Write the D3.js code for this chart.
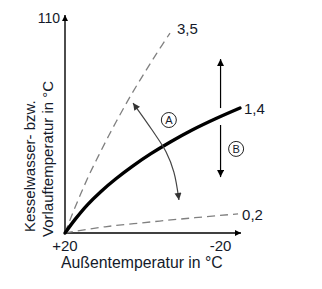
<!DOCTYPE html>
<html><head><meta charset="utf-8">
<script src="https://cdn.jsdelivr.net/npm/d3@7/dist/d3.min.js"></script>
<style>body{margin:0;background:#fff}svg{display:block}text{font-family:"Liberation Sans",Arial,sans-serif;fill:#141a2a}</style>
</head><body><svg id="c" width="322" height="289"></svg>
<script>
// Data (outside temperature T in °C, flow temperature F in °C)
const slopeLabels = ["3,5", "1,4", "0,2"];
const curve35 = [[20,20],[18.1,28.0],[16.0,36.2],[13.8,44.3],[11.3,52.6],[8.7,60.9],[5.9,69.4],[3.0,77.8],[-0.2,86.4],[-3.5,95.0],[-7.0,103.7]];
const curve14 = [[20,20],[17.3,25.9],[14.3,31.7],[10.8,37.3],[6.9,42.7],[2.6,48.0],[-2.1,53.2],[-7.2,58.2],[-12.7,63.1],[-18.7,67.8],[-25,72.3]];
const curve02 = [[20,20],[9.7,22.6],[-1.9,24.6],[-13.4,26.4],[-24.5,28.0]];
const xTicks = [20, -20];
const xTickLabels = ["+20", "-20"];
const yTicks = [110];
const arcA = [[2.5,74.4],[-2.4,63.1],[-6.0,53.9],[-8.0,45.5],[-9.3,33.8]];
const arrowB = {T:-20, top:92.8, gapTop:72.3, gapBottom:65.2, bottom:43.4};
const markA = [-6.7, 67.3], markB = [-24, 55.2];

const svg = d3.select("#c");
const x = d3.scaleLinear().domain([20,-25]).range([65,240]);
const y = d3.scaleLinear().domain([20,110]).range([233,18]);

const defs = svg.append("defs");
function marker(id, color, w, h){
  defs.append("marker").attr("id",id).attr("viewBox","0 0 10 10").attr("refX",10).attr("refY",5)
    .attr("markerUnits","userSpaceOnUse").attr("markerWidth",w).attr("markerHeight",h)
    .attr("orient","auto-start-reverse")
    .append("path").attr("d","M0,0L10,5L0,10Z").attr("fill",color);
}
marker("ax","#000",10,6);
marker("ab","#000",10,7);
marker("aa","#333",10,7);

// axes
svg.append("line").attr("x1",x(20)).attr("y1",y(20)).attr("x2",x(20)).attr("y2",y(110)-3)
  .attr("stroke","#000").attr("stroke-width",1.4).attr("marker-end","url(#ax)");
svg.append("line").attr("x1",x(20)).attr("y1",y(20)).attr("x2",x(-25)+1).attr("y2",y(20))
  .attr("stroke","#000").attr("stroke-width",1.4).attr("marker-end","url(#ax)");

const line = d3.line().x(d=>x(d[0])).y(d=>y(d[1])).curve(d3.curveCatmullRom);
svg.append("path").attr("d",line(curve35)).attr("fill","none").attr("stroke","#808080")
  .attr("stroke-width",1.3).attr("stroke-dasharray","8,5");
svg.append("path").attr("d",line(curve02)).attr("fill","none").attr("stroke","#808080")
  .attr("stroke-width",1.3).attr("stroke-dasharray","8,5");
svg.append("path").attr("d",line(curve14)).attr("fill","none").attr("stroke","#000")
  .attr("stroke-width",3.4).attr("stroke-linecap","round");

// arc A
svg.append("path").attr("d",line(arcA)).attr("fill","none").attr("stroke","#444")
  .attr("stroke-width",1.2).attr("marker-start","url(#aa)").attr("marker-end","url(#aa)");
// arrow B
svg.append("line").attr("x1",x(arrowB.T)).attr("x2",x(arrowB.T)).attr("y1",y(arrowB.gapTop)).attr("y2",y(arrowB.top))
  .attr("stroke","#000").attr("stroke-width",1.2).attr("marker-end","url(#ab)");
svg.append("line").attr("x1",x(arrowB.T)).attr("x2",x(arrowB.T)).attr("y1",y(arrowB.gapBottom)).attr("y2",y(arrowB.bottom))
  .attr("stroke","#000").attr("stroke-width",1.2).attr("marker-end","url(#ab)");

// circled letters
[[markA,"A"],[markB,"B"]].forEach(([p,t])=>{
  svg.append("circle").attr("cx",x(p[0])).attr("cy",y(p[1])).attr("r",7.5)
    .attr("fill","#fff").attr("stroke","#222").attr("stroke-width",1);
  svg.append("text").attr("x",x(p[0])).attr("y",y(p[1])+4).attr("text-anchor","middle")
    .attr("font-size",11).text(t);
});

// curve labels
const ends = [curve35, curve14, curve02];
slopeLabels.forEach((s,i)=>{
  const e = ends[i][ends[i].length-1];
  svg.append("text").attr("x",x(e[0])+(i==0?7:4)).attr("y",y(e[1])+(i==0?-2:3)+3)
    .attr("font-size",15).text(s);
});

// tick labels
xTicks.forEach((t,i)=>{
  svg.append("text").attr("x",x(t)).attr("y",251).attr("text-anchor","middle")
    .attr("font-size",15).text(xTickLabels[i]);
});
yTicks.forEach(t=>{
  svg.append("text").attr("x",x(20)-5).attr("y",y(t)+5).attr("text-anchor","end")
    .attr("font-size",14).text(t);
});

// axis titles
svg.append("text").attr("x",61).attr("y",268).attr("font-size",15.8).text("Außentemperatur in °C");
svg.append("text").attr("transform","translate(35,232) rotate(-90)").attr("font-size",15).text("Kesselwasser- bzw.");
svg.append("text").attr("transform","translate(53,237) rotate(-90)").attr("font-size",15).text("Vorlauftemperatur in °C");
</script></body></html>
